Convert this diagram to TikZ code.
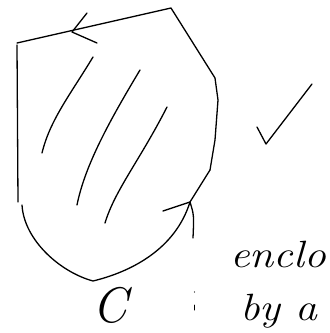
\documentclass[tikz,border=0pt]{standalone}
\begin{document}
\begin{tikzpicture}[x=1pt,y=-1pt,
  pen/.style={line width=1.3pt,line cap=round,line join=round,black},
  hand/.style={font=\fontsize{38}{38}\selectfont\itshape,inner sep=0pt,anchor=base west,xscale=1.15}]
\useasboundingbox (0,0) rectangle (330,333);
% boundary curve
\draw[pen] (17,43) -- (171,8) -- (215,78) -- (218,100) -- (215,140) -- (210,170);
\draw[pen] (17,45) -- (18,202);
\draw[pen] (22,205) .. controls (24,240) and (60,272) .. (93,281)
  .. controls (130,272) and (175,250) .. (190,202) -- (210,170);
% arrowheads
\draw[pen] (87,13) -- (72,32) -- (97,43);
\draw[pen] (163,211) -- (190,202) .. controls (194,215) .. (193,238);
% hatching
\draw[pen] (93,57) .. controls (70,95) and (50,120) .. (42,153);
\draw[pen] (140,70) .. controls (110,120) and (85,165) .. (77,205);
\draw[pen] (167,107) .. controls (140,160) and (115,190) .. (105,223);
% check mark
\draw[pen] (257,127) -- (266,144) -- (312,84);
% texts
\node[hand] (t1) at (230,267) {enclo};
\node[hand] (t2) at (240,320) {by\ a};
\node[font=\fontsize{50}{50}\selectfont\itshape,inner sep=0pt,anchor=base west] (c) at (92,322) {C};
\fill (194.5,292) circle (0.7);
\draw[pen,line width=1pt] (194.5,305) -- (194.5,310);
\end{tikzpicture}
\end{document}
